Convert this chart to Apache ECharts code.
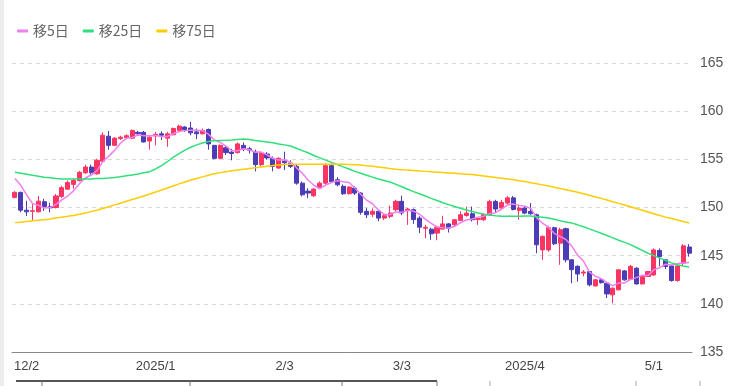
<!DOCTYPE html>
<html><head><meta charset="utf-8">
<script src="https://cdn.jsdelivr.net/npm/echarts@6/dist/echarts.min.js"></script>
<style>html,body{margin:0;padding:0;background:#fff}#c{width:737px;height:386px}</style>
</head><body><div id="c"></div>
<script>
const dates = ['11/28','11/29',
'12/2','12/3','12/4','12/5','12/6','12/9','12/10','12/11','12/12','12/13','12/16','12/17','12/18','12/19','12/20','12/23','12/24','12/25','12/26','12/27','12/30','12/31',
'1/2','1/3','1/6','1/7','1/8','1/9','1/10','1/13','1/14','1/15','1/16','1/17','1/20','1/21','1/22','1/23','1/24','1/27','1/28','1/29','1/30','1/31',
'2/3','2/4','2/5','2/6','2/7','2/10','2/11','2/12','2/13','2/14','2/17','2/18','2/19','2/20','2/21','2/24','2/25','2/26','2/27','2/28',
'3/3','3/4','3/5','3/6','3/7','3/10','3/11','3/12','3/13','3/14','3/17','3/18','3/19','3/20','3/21','3/24','3/25','3/26','3/27','3/28','3/31',
'4/1','4/2','4/3','4/4','4/7','4/8','4/9','4/10','4/11','4/14','4/15','4/16','4/17','4/18','4/21','4/22','4/23','4/24','4/25','4/28','4/29','4/30',
'5/1','5/2','5/5','5/6','5/7','5/8','5/9'];

const tickDates  = ['12/2','1/2','2/3','3/3','4/1','5/1'];
const tickLabels = ['12/2','2025/1','2/3','3/3','2025/4','5/1'];

const yTicks = [135,140,145,150,155,160,165];

// [open, close, low, high]
const ohlc = [
[151.05,151.57,150.95,151.70],[151.57,149.72,149.50,151.65],[149.72,149.55,149.13,150.70],[149.60,149.66,148.71,150.35],[149.55,150.66,149.50,151.20],
[150.60,150.10,149.65,150.90],[150.10,149.97,149.50,150.50],[150.00,151.20,149.90,151.40],[151.15,152.06,151.00,152.25],[151.90,152.60,151.85,152.80],
[152.40,152.80,151.95,153.00],[152.80,153.65,152.70,153.80],[153.60,154.20,153.50,154.45],[154.20,153.60,153.40,154.45],[153.50,154.90,153.40,155.05],
[154.80,157.50,154.70,157.80],[157.40,156.45,156.00,157.95],[156.45,157.20,156.40,157.30],[157.15,157.30,157.00,157.45],[157.25,157.45,157.20,157.60],
[157.20,158.00,157.10,158.10],[157.80,157.65,157.45,157.95],[157.80,156.80,156.75,157.95],[156.90,157.30,156.00,157.40],[157.45,157.60,156.45,157.85],
[157.65,157.50,157.00,157.90],[157.20,157.65,156.30,157.85],[157.55,158.20,157.50,158.30],[158.00,158.45,157.85,158.60],[158.35,158.10,157.85,158.45],
[158.25,157.75,157.50,158.90],[157.85,157.65,157.10,158.20],[157.65,158.00,157.60,158.20],[158.10,156.60,156.00,158.20],[156.45,155.10,155.00,156.50],
[155.10,156.45,155.00,156.55],[156.20,155.70,155.45,156.40],[155.75,155.60,154.90,156.10],[155.70,156.60,155.60,156.75],[156.45,156.10,155.85,156.75],
[156.10,155.95,155.60,156.30],[155.75,154.45,153.75,156.00],[154.45,155.65,154.30,155.80],[155.55,155.15,154.95,155.75],[155.10,154.27,153.75,155.30],
[154.10,155.10,154.00,155.20],[154.80,154.65,153.90,155.80],[154.60,154.27,154.10,154.90],[154.27,152.53,152.36,154.45],[152.53,151.32,151.15,152.70],
[151.70,151.50,150.97,152.00],[151.22,151.91,151.10,152.00],[152.02,152.53,151.90,152.70],[152.53,154.34,152.40,154.60],[154.34,152.70,152.60,154.55],
[152.88,152.36,152.20,153.15],[152.20,151.43,151.30,152.40],[151.43,152.12,151.35,152.20],[152.02,151.50,151.30,152.20],[151.50,149.50,149.25,151.60],
[149.60,149.25,148.90,149.94],[149.30,149.60,149.00,149.90],[149.60,148.90,148.56,149.70],[148.90,149.15,148.70,149.40],[149.08,149.43,148.90,150.20],
[149.77,150.64,149.60,150.80],[150.64,149.43,149.20,151.23],[149.70,149.84,148.20,149.95],[149.77,148.75,148.30,149.90],[148.90,147.96,147.34,149.10],
[147.85,147.95,146.80,148.20],[147.75,147.27,146.65,147.90],[147.34,147.96,146.60,148.10],[147.76,148.30,147.70,149.14],[148.30,147.86,147.40,148.40],
[148.20,148.73,148.10,148.80],[148.66,149.25,148.60,149.60],[149.17,149.42,149.05,150.10],[149.35,148.73,148.55,150.10],[148.76,148.85,148.20,149.00],
[148.73,149.25,148.60,149.40],[149.25,150.63,149.10,150.80],[150.63,149.84,149.49,150.80],[149.94,150.53,149.80,150.80],[150.46,151.00,150.30,151.20],
[151.00,149.80,149.70,151.20],[149.70,149.94,148.73,150.30],[149.94,149.42,149.30,150.10],[149.60,149.35,149.25,150.46],[149.25,146.13,145.26,149.35],
[145.60,147.00,144.57,147.10],[145.60,147.90,145.40,148.10],[147.90,146.23,146.10,148.00],[146.30,147.70,144.05,147.90],[147.80,144.57,144.30,147.90],
[144.57,143.55,142.14,144.60],[143.90,143.10,142.30,144.00],[143.20,143.30,142.85,143.50],[143.35,141.97,141.80,143.40],[141.86,142.49,141.80,142.60],
[142.49,142.20,142.10,142.60],[142.14,141.03,140.60,142.20],[140.93,141.62,140.06,141.70],[141.45,143.53,141.40,143.60],[143.42,142.49,142.40,143.50],
[142.56,143.88,142.50,144.05],[143.70,142.07,142.00,143.80],[142.07,142.84,142.00,142.90],[142.84,143.35,142.80,143.40],[143.00,145.60,142.90,145.75],
[145.54,144.90,143.90,145.75],[144.57,143.88,143.60,144.60],[143.94,142.42,142.30,144.00],[142.42,143.94,142.30,144.00],[144.22,146.02,143.90,146.20],
[145.90,145.26,144.90,146.20]
];

const ma5 = [153.0,152.3,151.3,150.4,150.23,149.94,149.99,150.32,150.80,151.19,151.73,152.46,153.06,153.37,153.83,154.77,155.33,155.93,156.67,157.18,
157.28,157.52,157.44,157.44,157.47,157.37,157.37,157.65,157.88,157.98,158.03,158.03,157.99,157.62,157.02,156.76,156.37,155.89,155.89,156.09,
155.99,155.74,155.75,155.46,155.09,154.92,154.96,154.69,154.16,153.57,152.85,152.31,151.96,152.32,152.60,152.77,152.67,152.59,152.02,151.38,
150.76,150.39,149.75,149.28,149.27,149.54,149.51,149.70,149.62,149.32,148.79,148.35,147.98,147.89,147.87,148.02,148.42,148.71,148.80,149.00,
149.10,149.38,149.46,149.82,150.25,150.36,150.22,150.14,149.90,148.93,148.37,147.96,147.32,146.99,146.68,145.99,145.03,144.44,143.30,142.88,
142.61,142.20,141.86,142.17,142.17,142.51,142.72,142.96,142.93,143.55,143.75,144.11,144.03,144.15,144.23,144.30];

const ma25 = [153.65,153.55,153.45,153.35,153.25,153.15,153.08,153.00,152.97,152.95,152.95,152.95,152.95,152.97,153.00,153.02,153.05,153.12,153.20,153.30,
153.38,153.48,153.60,153.72,154.00,154.35,154.75,155.20,155.60,155.95,156.25,156.50,156.70,156.85,156.92,156.95,156.97,157.00,157.05,157.10,
157.05,156.95,156.88,156.80,156.72,156.60,156.50,156.38,156.15,155.90,155.68,155.40,155.15,154.92,154.68,154.45,154.22,154.00,153.75,153.55,
153.35,153.15,152.95,152.80,152.65,152.40,152.15,151.90,151.65,151.42,151.20,150.95,150.72,150.50,150.30,150.10,149.92,149.75,149.58,149.42,
149.30,149.22,149.15,149.10,149.08,149.08,149.10,149.12,149.12,149.05,148.98,148.90,148.78,148.62,148.50,148.38,148.20,148.00,147.78,147.55,
147.32,147.10,146.85,146.60,146.38,146.15,145.85,145.55,145.25,145.00,144.75,144.50,144.25,144.05,143.92,143.82];

const ma75 = [148.43,148.48,148.55,148.62,148.68,148.74,148.80,148.90,149.00,149.08,149.18,149.30,149.43,149.57,149.72,149.90,150.08,150.27,150.45,150.64,
150.83,151.02,151.20,151.40,151.60,151.82,152.03,152.24,152.45,152.65,152.85,153.02,153.18,153.35,153.50,153.62,153.72,153.82,153.90,153.98,
154.05,154.12,154.20,154.28,154.36,154.42,154.46,154.48,154.50,154.50,154.50,154.50,154.50,154.50,154.50,154.49,154.48,154.47,154.44,154.40,
154.34,154.27,154.20,154.12,154.04,153.97,153.93,153.88,153.84,153.79,153.75,153.71,153.67,153.63,153.59,153.55,153.50,153.46,153.42,153.36,
153.28,153.20,153.12,153.04,152.96,152.87,152.78,152.70,152.58,152.47,152.35,152.23,152.10,151.98,151.85,151.72,151.58,151.43,151.27,151.10,
150.95,150.78,150.60,150.43,150.26,150.08,149.90,149.72,149.53,149.35,149.17,149.00,148.85,148.70,148.55,148.40];

const seriesNames = ['移5日','移25日','移75日'];
const lineColors = ['#f07ff0','#2ee07a','#ffcc00'];
const upColor = '#fb3563', downColor = '#4a3db6';

const chart = echarts.init(document.getElementById('c'), null, {renderer:'canvas'});
const font = '"Noto Sans CJK JP", "Noto Sans", sans-serif';
chart.setOption({
  animation: false,
  backgroundColor: '#fff',
  legend: {
    left: 12, top: 19, itemWidth: 11, itemHeight: 3, itemGap: 14,
    icon: 'roundRect',
    textStyle: {color: '#666', fontSize: 14, fontFamily: font},
    data: seriesNames
  },
  grid: {left: 12, right: 45, top: 63, bottom: 34},
  xAxis: {
    type: 'category', data: dates, boundaryGap: true,
    axisLine: {show: true, lineStyle: {color: '#888', width: 1}},
    axisTick: {show: false},
    splitLine: {show: false},
    axisLabel: {
      color: '#444', fontSize: 13, margin: 8, fontFamily: 'Liberation Sans, Arial, sans-serif',
      interval: (i, v) => tickDates.indexOf(v) >= 0,
      formatter: v => tickLabels[tickDates.indexOf(v)]
    }
  },
  yAxis: {
    type: 'value', position: 'right', min: yTicks[0], max: yTicks[yTicks.length-1], interval: 5,
    axisLine: {show: false}, axisTick: {show: false},
    splitLine: {show: true, lineStyle: {color: '#d9d9d9', type: [4,4], width: 1}},
    axisLabel: {color: '#555', fontSize: 14, margin: 8, fontFamily: 'Liberation Sans, Arial, sans-serif'}
  },
  series: [
    {type: 'candlestick', data: ohlc, barWidth: '78%',
     itemStyle: {color: upColor, color0: downColor, borderColor: upColor, borderColor0: downColor, borderWidth: 1}},
    {name: seriesNames[0], type: 'line', data: ma5, showSymbol: false, lineStyle: {width: 1.5, color: lineColors[0]}, itemStyle: {color: lineColors[0]}},
    {name: seriesNames[1], type: 'line', data: ma25, showSymbol: false, lineStyle: {width: 1.5, color: lineColors[1]}, itemStyle: {color: lineColors[1]}},
    {name: seriesNames[2], type: 'line', data: ma75, showSymbol: false, lineStyle: {width: 1.5, color: lineColors[2]}, itemStyle: {color: lineColors[2]}}
  ],
  graphic: [
    {type: 'rect', left: 0, top: 0, shape: {width: 4, height: 386}, style: {fill: '#ececec'}},
    {type: 'line', shape: {x1: 16, y1: 381, x2: 437, y2: 381}, style: {stroke: '#555', lineWidth: 2}},
    {type: 'line', shape: {x1: 42, y1: 381, x2: 42, y2: 386}, style: {stroke: '#777', lineWidth: 1}},
    {type: 'line', shape: {x1: 190, y1: 381, x2: 190, y2: 386}, style: {stroke: '#777', lineWidth: 1}},
    {type: 'line', shape: {x1: 342, y1: 381, x2: 342, y2: 386}, style: {stroke: '#777', lineWidth: 1}},
    {type: 'line', shape: {x1: 437, y1: 381, x2: 437, y2: 386}, style: {stroke: '#777', lineWidth: 1}},
    {type: 'line', shape: {x1: 490, y1: 381, x2: 490, y2: 386}, style: {stroke: '#aaa', lineWidth: 1}},
    {type: 'line', shape: {x1: 636, y1: 381, x2: 636, y2: 386}, style: {stroke: '#aaa', lineWidth: 1}},
    {type: 'line', shape: {x1: 700, y1: 381, x2: 700, y2: 386}, style: {stroke: '#aaa', lineWidth: 1}}
  ]
});
</script></body></html>
